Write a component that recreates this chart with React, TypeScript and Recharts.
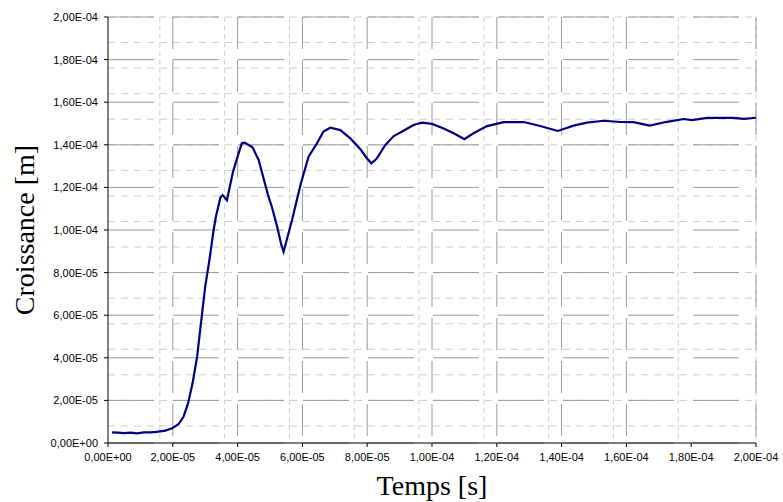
import { CartesianGrid, Label, Line, LineChart, XAxis, YAxis } from "recharts";

// temps [s]
const timeValues = [
  1.2e-6, 3e-6, 5e-6, 7e-6, 9e-6, 1.1e-5, 1.3e-5, 1.5e-5, 1.77e-5, 1.98e-5, 2.18e-5, 2.33e-5,
  2.47e-5, 2.61e-5, 2.75e-5, 2.88e-5, 3.0e-5, 3.13e-5, 3.26e-5, 3.33e-5, 3.47e-5, 3.54e-5,
  3.67e-5, 3.77e-5, 3.86e-5, 4.03e-5, 4.13e-5, 4.22e-5, 4.46e-5, 4.65e-5, 4.8e-5, 4.94e-5,
  5.06e-5, 5.22e-5, 5.35e-5, 5.42e-5, 5.68e-5, 5.94e-5, 6.19e-5, 6.45e-5, 6.65e-5, 6.86e-5,
  7.17e-5, 7.48e-5, 7.79e-5, 7.99e-5, 8.13e-5, 8.3e-5, 8.56e-5, 8.82e-5, 9.12e-5, 9.43e-5,
  9.69e-5, 1.0e-4, 1.036e-4, 1.067e-4, 1.1e-4, 1.128e-4, 1.17e-4, 1.221e-4, 1.283e-4,
  1.334e-4, 1.388e-4, 1.437e-4, 1.478e-4, 1.53e-4, 1.581e-4, 1.622e-4, 1.672e-4, 1.725e-4,
  1.777e-4, 1.802e-4, 1.849e-4, 1.931e-4, 1.962e-4, 2.0e-4,
];

// croissance [m]
const growthValues = [
  5.0e-6, 4.9e-6, 4.6e-6, 4.9e-6, 4.5e-6, 5.0e-6, 5.0e-6, 5.2e-6, 5.8e-6, 6.9e-6, 8.9e-6, 1.23e-5,
  1.86e-5, 2.8e-5, 4.05e-5, 5.77e-5, 7.34e-5, 8.59e-5, 1.0e-4, 1.062e-4, 1.153e-4, 1.164e-4,
  1.14e-4, 1.21e-4, 1.274e-4, 1.36e-4, 1.407e-4, 1.41e-4, 1.388e-4, 1.329e-4, 1.243e-4, 1.164e-4,
  1.107e-4, 1.016e-4, 9.3e-5, 8.98e-5, 1.047e-4, 1.211e-4, 1.344e-4, 1.407e-4, 1.462e-4, 1.48e-4,
  1.469e-4, 1.43e-4, 1.379e-4, 1.337e-4, 1.313e-4, 1.337e-4, 1.399e-4, 1.441e-4, 1.466e-4, 1.493e-4,
  1.504e-4, 1.498e-4, 1.477e-4, 1.454e-4, 1.426e-4, 1.454e-4, 1.488e-4, 1.506e-4, 1.507e-4,
  1.488e-4, 1.465e-4, 1.49e-4, 1.504e-4, 1.513e-4, 1.507e-4, 1.506e-4, 1.49e-4, 1.508e-4,
  1.521e-4, 1.516e-4, 1.526e-4, 1.526e-4, 1.522e-4, 1.527e-4,
];

const xTicks = [0, 2e-5, 4e-5, 6e-5, 8e-5, 1e-4, 1.2e-4, 1.4e-4, 1.6e-4, 1.8e-4, 2e-4];
const yTicks = [0, 2e-5, 4e-5, 6e-5, 8e-5, 1e-4, 1.2e-4, 1.4e-4, 1.6e-4, 1.8e-4, 2e-4];

const data = timeValues.map((t, i) => ({ t, y: growthValues[i] }));

// sous-graduations (5 par intervalle)
const minorX = Array.from({ length: 51 }, (_, i) => i * 4e-6);
const minorY = Array.from({ length: 51 }, (_, i) => i * 4e-6);

const fmt = (v: number) => {
  const [m, e] = v.toExponential(2).split("e");
  const sign = e[0] === "-" ? "-" : "+";
  const exp = e.replace(/[-+]/, "").padStart(2, "0");
  return `${m.replace(".", ",")}E${sign}${exp}`;
};

const tickStyle = { fontFamily: "Liberation Sans, Arial, sans-serif", fontSize: 11, fill: "#000" };
const titleFont = "Liberation Serif, DejaVu Serif, serif";

export default function App() {
  return (
    <div style={{ position: "absolute", left: 0, top: 0, background: "#fff" }}>
      <LineChart width={783} height={502} data={data} margin={{ top: 17, right: 27, bottom: 0, left: 8 }}>
        <CartesianGrid horizontal={false} verticalValues={minorX} stroke="#cfcfcf" strokeDasharray="5 3.5" />
        <CartesianGrid vertical={false} horizontalValues={minorY} stroke="#cfcfcf" strokeDasharray="7 6" />
        <CartesianGrid horizontal={false} verticalValues={xTicks} stroke="#9a9a9a" strokeDasharray="32 11" />
        <CartesianGrid vertical={false} horizontalValues={yTicks} stroke="#9a9a9a" strokeDasharray="46 19" />
        <XAxis
          dataKey="t"
          type="number"
          domain={[0, 2e-4]}
          ticks={xTicks}
          tickFormatter={fmt}
          tick={tickStyle}
          height={59}
          tickSize={4}
          tickMargin={6}
          stroke="#000"
          allowDataOverflow
        >
          <Label
            value="Temps [s]"
            position="insideBottom"
            offset={7}
            style={{ fontFamily: titleFont, fontSize: 28, fill: "#000" }}
          />
        </XAxis>
        <YAxis
          type="number"
          domain={[0, 2e-4]}
          ticks={yTicks}
          tickFormatter={fmt}
          tick={tickStyle}
          width={100}
          tickSize={4}
          tickMargin={6}
          stroke="#000"
          allowDataOverflow
        >
          <Label
            value="Croissance [m]"
            angle={-90}
            position="insideLeft"
            offset={16}
            style={{ fontFamily: titleFont, fontSize: 28, fill: "#000", textAnchor: "middle" }}
          />
        </YAxis>
        <Line
          type="linear"
          dataKey="y"
          stroke="#000080"
          strokeWidth={2.2}
          dot={false}
          isAnimationActive={false}
        />
      </LineChart>
    </div>
  );
}
